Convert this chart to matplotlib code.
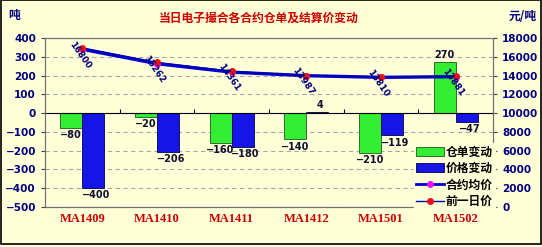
import numpy as np
import matplotlib
matplotlib.use('Agg')
import matplotlib.pyplot as plt
from matplotlib.patches import Patch, Rectangle
from matplotlib.lines import Line2D

contracts = ['MA1409', 'MA1410', 'MA1411', 'MA1412', 'MA1501', 'MA1502']
receipt_change = [-80, -20, -160, -140, -210, 270]     # 仓单变动 (吨)
price_change = [-400, -206, -180, 4, -119, -47]        # 价格变动
avg_price = [16800, 15262, 14361, 13987, 13810, 13881]  # 合约均价 (元/吨)
prev_price = [16950, 15400, 14450, 14000, 13850, 13900]  # 前一日价

CJK = ['Noto Sans CJK SC', 'DejaVu Sans']
bg = '#FFFFD8'
navy = '#000080'

fig = plt.figure(figsize=(5.42, 2.47), dpi=100, facecolor=bg)
ax = fig.add_axes([45 / 542, 1 - 207 / 247, 448 / 542, 169 / 247], facecolor=bg)
ax2 = ax.twinx()

x = np.arange(len(contracts))
w = 0.295
ax.bar(x - w / 2, receipt_change, w, color='#33EE33', edgecolor='#1E5A1E', linewidth=0.6, zorder=3)
ax.bar(x + w / 2, price_change, w, color='#1515E8', edgecolor='#000050', linewidth=0.6, zorder=3)

for xi, v in zip(x - w / 2, receipt_change):
    ax.text(xi, v + (12 if v > 0 else -12), str(v).replace('-', '\u2212'),
            ha='center', va='bottom' if v > 0 else 'top',
            fontsize=7, fontweight='bold', color='#101030', zorder=5)
for xi, v in zip(x + w / 2, price_change):
    ax.text(xi + 0.04, v + (12 if v > 0 else -12), str(v).replace('-', '\u2212'),
            ha='center', va='bottom' if v > 0 else 'top',
            fontsize=7, fontweight='bold', color='#101030', zorder=5)

ax.set_xlim(-0.5, len(contracts) - 0.5)
ax.set_ylim(-500, 400)
ax.set_yticks(np.arange(-500, 401, 100))
ax.yaxis.grid(True, linestyle=(0, (4, 3)), color='#A8A8A8', linewidth=0.8)
ax.set_axisbelow(True)
ax.axhline(0, color='black', linewidth=0.8, zorder=4)
ax.vlines(x[:-1] + 0.5, 0, 20, color='black', linewidth=0.8, zorder=4)
ax.set_xticks([])
for xi, c in zip(x, contracts):
    ax.text(xi, -0.072, c, transform=ax.get_xaxis_transform(), ha='center', va='center',
            fontsize=9, fontweight='bold', color='#CC0000', family='Liberation Serif')

ax2.set_ylim(0, 18000)
ax2.set_yticks(np.arange(0, 18001, 2000))
ax2.plot(x, prev_price, color='#0000B0', linewidth=1.0, marker='o', markersize=4,
         markerfacecolor='#EE1010', markeredgecolor='#EE1010', zorder=6)
ax2.plot(x, avg_price, color='#0000D0', linewidth=2.4, marker='o', markersize=4,
         markerfacecolor='#EE10EE', markeredgecolor='#EE10EE', zorder=5)
for xi, v in zip(x, avg_price):
    ax2.annotate(str(v), (xi, v), xytext=(-2, -4), textcoords='offset points',
                 rotation=-55, ha='center', va='center', fontsize=6.5,
                 fontweight='bold', color=navy, zorder=7)

for a in (ax, ax2):
    for s in a.spines.values():
        s.set_color('#707070')
        s.set_linewidth(0.8)
    a.tick_params(axis='y', labelsize=7.5, labelcolor=navy, length=3, width=0.8, color='#404040')
    for lab in a.get_yticklabels():
        lab.set_fontweight('bold')

handles = [Patch(facecolor='#33EE33', edgecolor='#1E5A1E', linewidth=0.6),
           Patch(facecolor='#1515E8', edgecolor='#000050', linewidth=0.6),
           Line2D([], [], color='#0000D0', linewidth=2, marker='o', markersize=4,
                  markerfacecolor='#EE10EE', markeredgecolor='#EE10EE'),
           Line2D([], [], color='#0000B0', linewidth=1, marker='o', markersize=4,
                  markerfacecolor='#EE1010', markeredgecolor='#EE1010')]
labels = ['仓单变动', '价格变动', '合约均价', '前一日价']
leg = ax2.legend(handles, labels, loc='upper left', bbox_to_anchor=(414 / 542, 1 - 143 / 247),
                 bbox_transform=fig.transFigure, frameon=True, facecolor=bg, edgecolor=bg,
                 framealpha=1, fancybox=False, handlelength=2.3, handleheight=0.8,
                 handletextpad=0.15, labelspacing=0.3, borderpad=0.2, borderaxespad=0,
                 prop={'family': CJK, 'weight': 'bold', 'size': 8.5})
leg.set_zorder(20)

fig.text(259 / 542, 1 - 18 / 247, '当日电子撮合各合约仓单及结算价变动', ha='center', va='center',
         fontsize=8.5, fontweight='bold', color='#CC0000', family=CJK)
fig.text(8 / 542, 1 - 16 / 247, '吨', ha='left', va='center',
         fontsize=8.5, fontweight='bold', color=navy, family=CJK)
fig.text(523 / 542, 1 - 17 / 247, '元/吨', ha='center', va='center',
         fontsize=8.5, fontweight='bold', color=navy, family=CJK)

fig.patches.append(Rectangle((0.001, 0.012), 0.997, 0.986, transform=fig.transFigure,
                             fill=False, edgecolor='black', linewidth=1.2))

fig.savefig('out.png', dpi=100, facecolor=bg)
